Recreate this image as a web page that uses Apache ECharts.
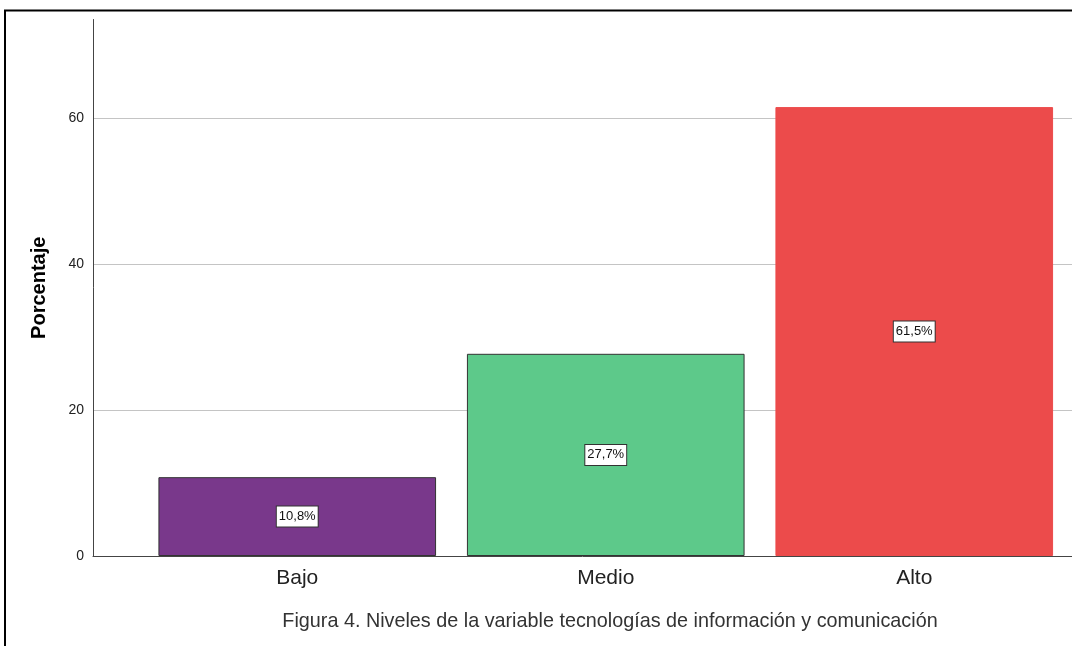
<!DOCTYPE html>
<html>
<head>
<meta charset="utf-8">
<script src="https://cdn.jsdelivr.net/npm/echarts@6/dist/echarts.min.js"></script>
<style>html,body{margin:0;padding:0;background:#fff;}#c{width:1072px;height:646px;}</style>
</head>
<body>
<div id="c"></div>
<script>
const categories = ['Bajo', 'Medio', 'Alto'];
const values = [10.8, 27.7, 61.5];
const barColors = ['#79388B', '#5DC98A', '#EC4B4B'];
const yTicks = [0, 20, 40, 60];
const yMax = 73.5;
const yTitle = 'Porcentaje';
const caption = 'Figura 4. Niveles de la variable tecnologías de información y comunicación';

const chart = echarts.init(document.getElementById('c'), null, {renderer: 'canvas'});
const FONT = '"Liberation Sans", Arial, sans-serif';
const option = {
  backgroundColor: '#fff',
  animation: false,
  title: {
    text: caption, left: 605, top: 607, textAlign: 'center',
    textStyle: {color: '#333', fontSize: 19.8, fontWeight: 'normal', fontFamily: FONT}
  },
  grid: [
    {left: 93, right: 0, top: 19.5, bottom: 90},
    {left: 143, right: 3.5, top: 19.5, bottom: 90}
  ],
  xAxis: [
    {gridIndex: 0, type: 'value', min: 0, max: 1, show: true,
     axisLine: {show: true, lineStyle: {color: '#444', width: 1}},
     axisTick: {show: false}, axisLabel: {show: false}, splitLine: {show: false}},
    {gridIndex: 1, type: 'category', data: categories,
     axisLine: {show: false}, axisTick: {show: false},
     axisLabel: {color: '#222', fontSize: 21, fontFamily: FONT, margin: 12}}
  ],
  yAxis: [
    {gridIndex: 0, type: 'value', min: 0, max: yMax, interval: 20,
     name: yTitle, nameLocation: 'middle', nameGap: 44,
     nameTextStyle: {color: '#000', fontSize: 20, fontWeight: 'bold', fontFamily: FONT},
     axisLine: {show: true, lineStyle: {color: '#444', width: 1}},
     axisTick: {show: false},
     axisLabel: {color: '#222', fontSize: 14, fontFamily: FONT, margin: 9,
       formatter: v => yTicks.indexOf(v) >= 0 ? String(v) : ''},
     splitLine: {show: true, lineStyle: {color: ['transparent', '#c4c4c4', '#c4c4c4', '#c4c4c4', 'transparent'], width: 1.2}}},
    {gridIndex: 1, type: 'value', min: 0, max: yMax, show: false}
  ],
  series: [{
    type: 'bar',
    xAxisIndex: 1, yAxisIndex: 1,
    barWidth: '90%',
    data: values.map((v, i) => ({
      value: v,
      itemStyle: {color: barColors[i], borderColor: i < 2 ? '#333' : barColors[i], borderWidth: 1}
    })),
    label: {
      show: true, position: 'inside',
      formatter: p => String(p.value).replace('.', ',') + '%',
      color: '#111', fontSize: 13, fontFamily: FONT,
      backgroundColor: '#fff', borderColor: '#333', borderWidth: 1,
      padding: [4, 2, 3, 2]
    }
  }],
  graphic: [
    {type: 'rect', shape: {x: 5, y: 10.5, width: 1100, height: 700},
     style: {fill: 'none', stroke: '#000', lineWidth: 2}, silent: true}
  ]
};
chart.setOption(option);
</script>
</body>
</html>
